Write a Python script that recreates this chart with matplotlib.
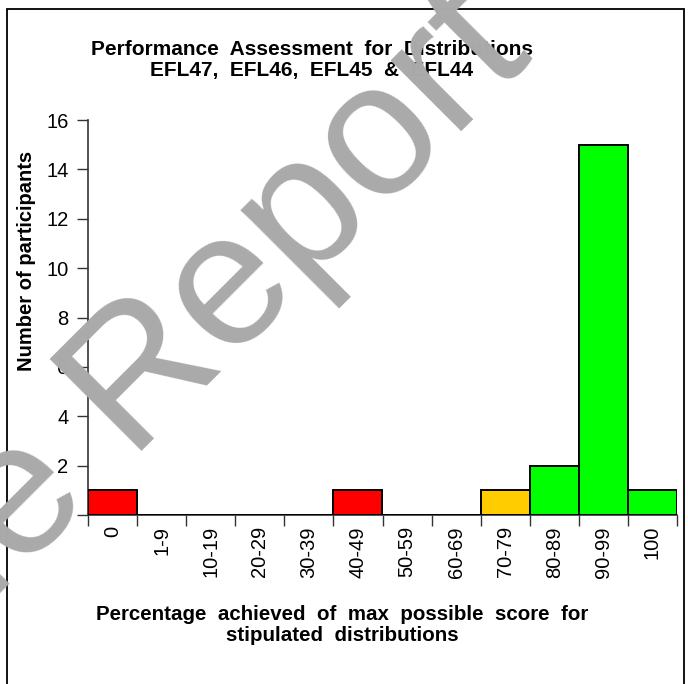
import matplotlib.pyplot as plt
from matplotlib.patches import Rectangle

plt.rcParams['font.family'] = ['Liberation Sans', 'DejaVu Sans']

# data
categories = ['0', '1-9', '10-19', '20-29', '30-39', '40-49', '50-59',
              '60-69', '70-79', '80-89', '90-99', '100']
participants = [1, 0, 0, 0, 0, 1, 0, 0, 1, 2, 15, 1]
bar_colors = ['#FF0000', '#FF0000', '#FF0000', '#FF0000', '#FF0000', '#FF0000',
              '#FFCC00', '#FFCC00', '#FFCC00', '#00FF00', '#00FF00', '#00FF00']

W, H = 688, 684
fig = plt.figure(figsize=(W / 100, H / 100), dpi=100)
ax = fig.add_axes([88 / W, 1 - 515 / H, (677 - 88) / W, (515 - 120) / H])

x = list(range(len(categories)))
ax.bar(x, participants, width=1.0, color=bar_colors, edgecolor='black', linewidth=1.4, zorder=3)

ax.set_xlim(-0.5, len(categories) - 0.5)
ax.set_ylim(0, 16)
ax.set_yticks(range(0, 17, 2))
ax.set_xticks(x)
ax.set_xticklabels(categories, rotation=90, fontsize=14.5)
ax.set_xticks([i - 0.5 for i in range(len(categories) + 1)], minor=True)
ax.tick_params(axis='x', which='major', length=0, pad=8)
ax.tick_params(axis='x', which='minor', length=8, width=1, color='#333333')
ax.tick_params(axis='y', length=8, width=1, color='#333333', labelsize=14.5, pad=6)
for s in ['top', 'right']:
    ax.spines[s].set_visible(False)
for s in ['left', 'bottom']:
    ax.spines[s].set_color('#333333')
    ax.spines[s].set_linewidth(1.2)

fig.text(312 / W, 1 - 60 / H, 'Performance  Assessment  for  Distributions\nEFL47,  EFL46,  EFL45  &  EFL44',
         ha='center', va='center', fontsize=15, fontweight='bold', linespacing=1.1)
fig.text(27 / W, 1 - 261 / H, 'Number of participants', rotation=90,
         ha='center', va='center', fontsize=14.5, fontweight='bold')
fig.text(342 / W, 1 - 625 / H, 'Percentage  achieved  of  max  possible  score  for\nstipulated  distributions',
         ha='center', va='center', fontsize=14.8, fontweight='bold', linespacing=1.1)

# page frame
fig.add_artist(Rectangle((7 / W, -0.1), (684 - 7) / W, 1.1 - 9 / H, transform=fig.transFigure,
                         fill=False, edgecolor='black', linewidth=1.3))

# watermark, anchored at the end of the word "Report"
fig.text(535 / W, 1 - 58 / H, 'Sample Report', rotation=45, rotation_mode='anchor',
         ha='right', va='baseline', fontsize=137, color='#aaaaaa', zorder=10)

fig.savefig('out.png', dpi=100)
